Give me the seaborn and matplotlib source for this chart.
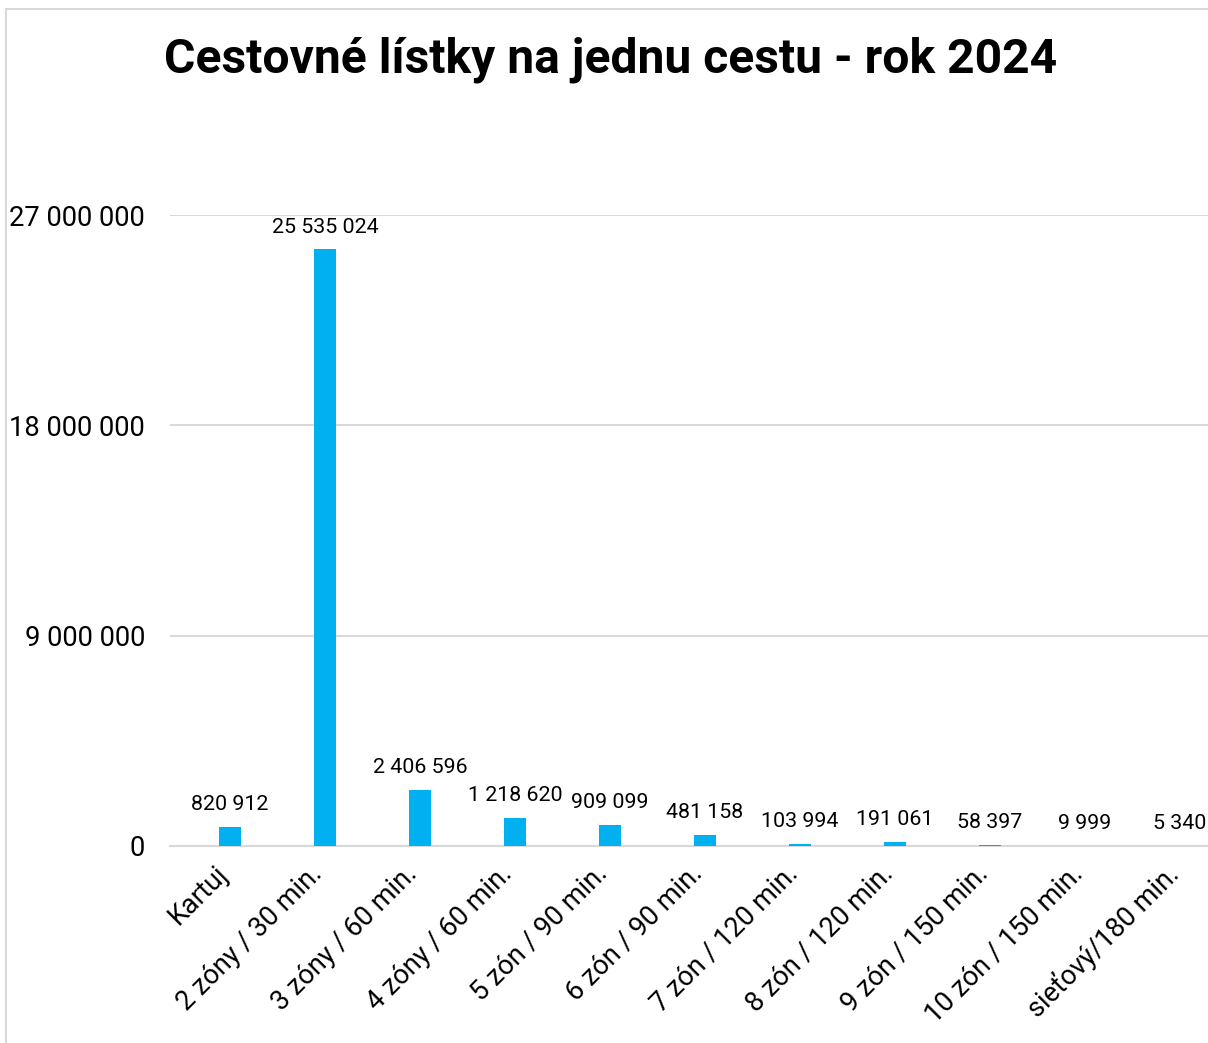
import matplotlib
matplotlib.use("Agg")
import matplotlib.pyplot as plt
import matplotlib.transforms as mtransforms
import seaborn as sns
import pandas as pd
from matplotlib.patches import Rectangle

categories = ["Kartuj", "2 zóny / 30 min.", "3 zóny / 60 min.", "4 zóny / 60 min.",
              "5 zón / 90 min.", "6 zón / 90 min.", "7 zón / 120 min.", "8 zón / 120 min.",
              "9 zón / 150 min.", "10 zón / 150 min.", "sieťový/180 min."]
values = [820912, 25535024, 2406596, 1218620, 909099, 481158, 103994, 191061, 58397, 9999, 5340]
yticks = [0, 9000000, 18000000, 27000000]
title = "Cestovné lístky na jednu cestu - rok 2024"

def fmt(v):
    return f"{v:,}".replace(",", " ")

sns.set_theme(style="white")
plt.rcParams['font.family'] = ['Roboto', 'DejaVu Sans']

W, H = 1208, 1043
fig = plt.figure(figsize=(W / 100, H / 100), dpi=100)
fig.patch.set_facecolor("white")

ax_left, ax_right = 170, 1208
ax_top, ax_bottom = 215, 846
ax = fig.add_axes([ax_left / W, 1 - ax_bottom / H, (ax_right - ax_left) / W, (ax_bottom - ax_top) / H])

df = pd.DataFrame({"cat": categories, "val": values})
sns.barplot(data=df, x="cat", y="val", color="#00B0F0", width=0.23, ax=ax,
            saturation=1, edgecolor="none", zorder=3)

ax.set_xlim(-60 / 95, (1208 - 230) / 95)
ax.set_ylim(0, 27000000)
ax.set_yticks(yticks)
ax.set_yticklabels([fmt(v) for v in yticks], fontsize=19.7, color="#000000")
ax.tick_params(axis="y", length=0, pad=18)
ax.tick_params(axis="x", length=0, pad=10)
ax.set_xticks(range(len(categories)))
ax.set_xticklabels(categories, rotation=45, ha="right", rotation_mode="anchor",
                   fontsize=19.5, color="#000000")
shift = mtransforms.ScaledTranslation(-16 / 100, 0, fig.dpi_scale_trans)
for lbl in ax.get_xticklabels():
    lbl.set_transform(lbl.get_transform() + shift)
ax.set_xlabel("")
ax.set_ylabel("")
for s in ax.spines.values():
    s.set_visible(False)
ax.yaxis.grid(True, color="#D9D9D9", linewidth=1.5, zorder=0)
ax.set_axisbelow(True)
ax.spines["bottom"].set_visible(True)
ax.spines["bottom"].set_color("#D9D9D9")
ax.spines["bottom"].set_linewidth(1.5)

for i, v in enumerate(values):
    ax.annotate(fmt(v), xy=(i, v), xytext=(0, 9), textcoords="offset points",
                ha="center", va="bottom", fontsize=15.4, color="#000000", clip_on=False)

fig.text(611 / W, 1 - 60 / H, title, ha="center", va="center", fontsize=34.6,
         fontweight="bold", color="#000000")

fig.patches.append(Rectangle((6 / W, -0.1), 1.2, 1 - 9 / H + 0.1, transform=fig.transFigure,
                             fill=False, edgecolor="#D9D9D9", linewidth=1.5))

fig.savefig("out.png", dpi=100, facecolor="white")
